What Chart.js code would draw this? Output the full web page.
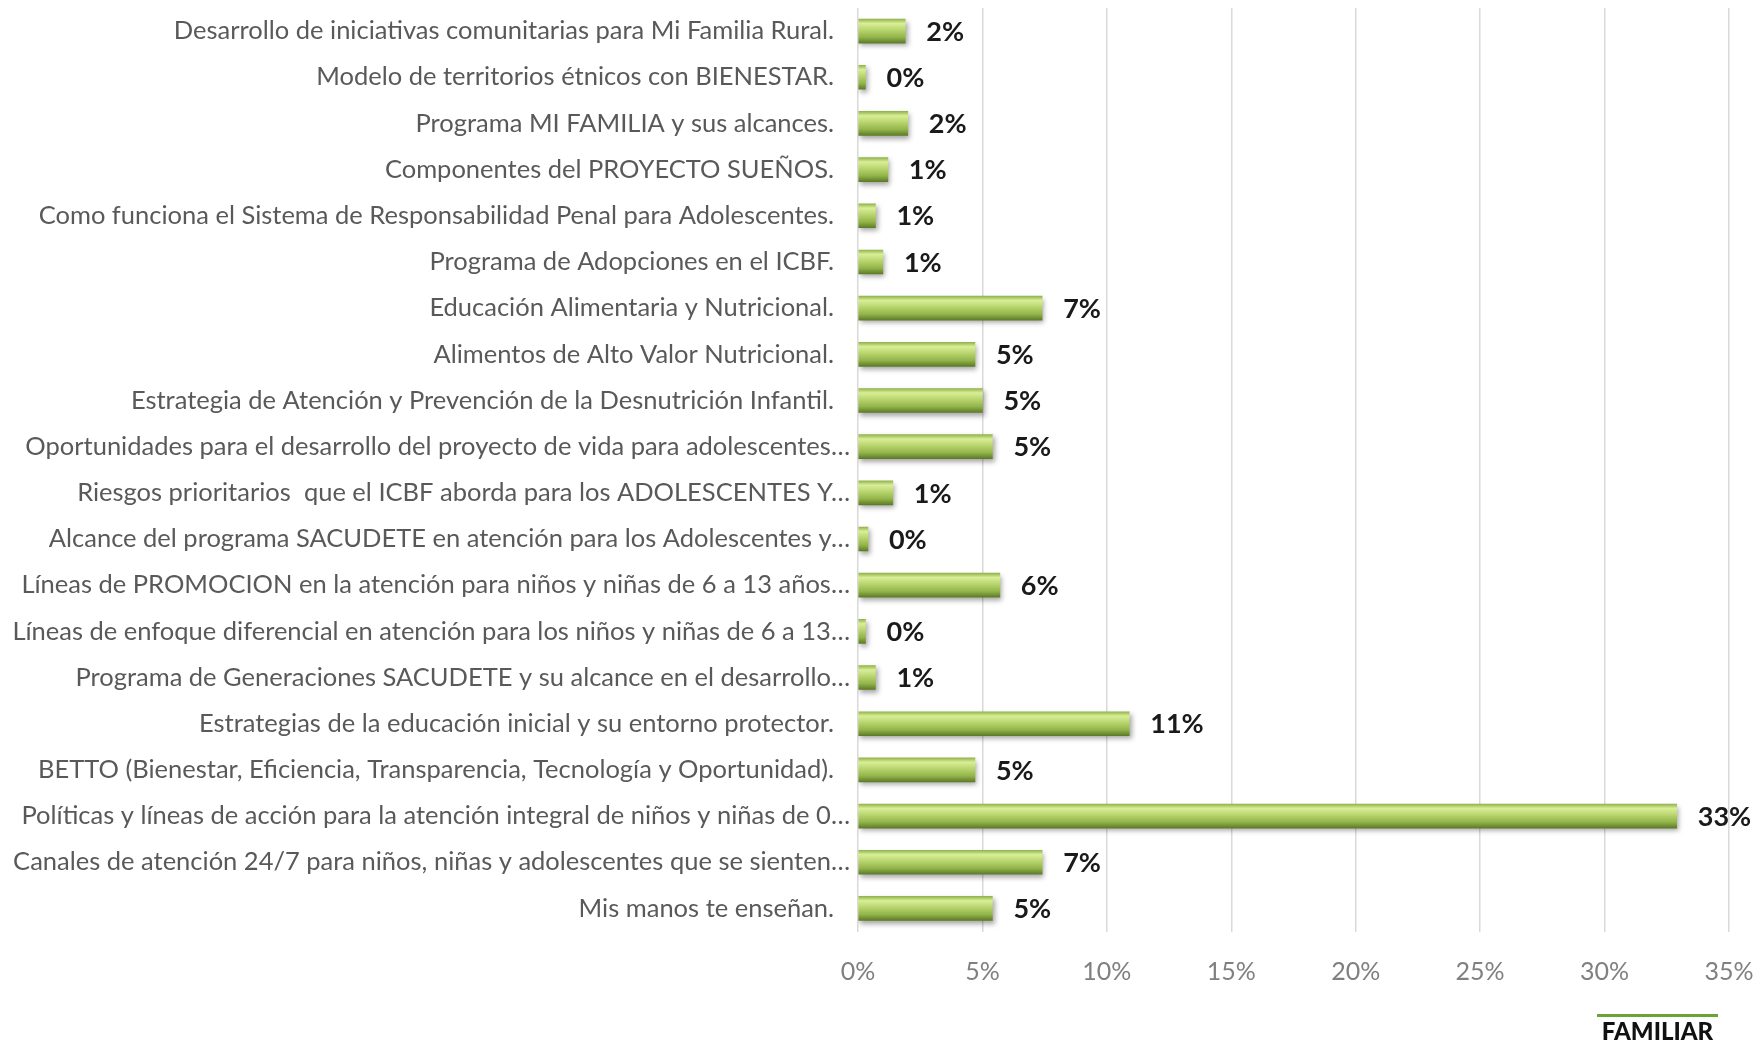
<!DOCTYPE html>
<html>
<head>
<meta charset="utf-8">
<script src="https://cdn.jsdelivr.net/npm/chart.js@4.4.1/dist/chart.umd.min.js"></script>
<style>
  html, body { margin: 0; padding: 0; background: #ffffff; }
  #wrap { position: relative; width: 1760px; height: 1041px; overflow: hidden; }
  #c { position: absolute; left: 0; top: 0; }
  #logo { position: absolute; left: 1597px; top: 1014px; width: 121px; border-top: 3px solid #6aa336;
          font-family: Lato, "Liberation Sans", sans-serif; font-weight: 900; font-size: 24px;
          color: #111; text-align: center; line-height: 27px; }
</style>
</head>
<body>
<div id="wrap">
  <canvas id="c" width="1760" height="1041"></canvas>
  <div id="logo">FAMILIAR</div>
</div>
<script>
const categories = [
  "Desarrollo de iniciativas comunitarias para Mi Familia Rural.",
  "Modelo de territorios étnicos con BIENESTAR.",
  "Programa MI FAMILIA y sus alcances.",
  "Componentes del PROYECTO SUEÑOS.",
  "Como funciona el Sistema de Responsabilidad Penal para Adolescentes.",
  "Programa de Adopciones en el ICBF.",
  "Educación Alimentaria y Nutricional.",
  "Alimentos de Alto Valor Nutricional.",
  "Estrategia de Atención y Prevención de la Desnutrición Infantil.",
  "Oportunidades para el desarrollo del proyecto de vida para adolescentes…",
  "Riesgos prioritarios  que el ICBF aborda para los ADOLESCENTES Y…",
  "Alcance del programa SACUDETE en atención para los Adolescentes y…",
  "Líneas de PROMOCION en la atención para niños y niñas de 6 a 13 años…",
  "Líneas de enfoque diferencial en atención para los niños y niñas de 6 a 13…",
  "Programa de Generaciones SACUDETE y su alcance en el desarrollo…",
  "Estrategias de la educación inicial y su entorno protector.",
  "BETTO (Bienestar, Eficiencia, Transparencia, Tecnología y Oportunidad).",
  "Políticas y líneas de acción para la atención integral de niños y niñas de 0…",
  "Canales de atención 24/7 para niños, niñas y adolescentes que se sienten…",
  "Mis manos te enseñan."
];
const percentValues = [1.9, 0.3, 2.0, 1.2, 0.7, 1.0, 7.4, 4.7, 5.0, 5.4, 1.4, 0.4, 5.7, 0.3, 0.7, 10.9, 4.7, 32.9, 7.4, 5.4];
const xTickValues = [0, 5, 10, 15, 20, 25, 30, 35];

const BAR_T = 24;

function barGradient(ctx) {
  const chart = ctx.chart;
  const yScale = chart.scales && chart.scales.y;
  if (!chart.chartArea || !yScale || ctx.dataIndex === undefined) return '#9bbb59';
  const yc = yScale.getPixelForValue(ctx.dataIndex);
  const g = chart.ctx.createLinearGradient(0, yc - BAR_T / 2, 0, yc + BAR_T / 2);
  g.addColorStop(0, '#93b44c');
  g.addColorStop(0.18, '#d9ee97');
  g.addColorStop(0.42, '#bcd872');
  g.addColorStop(0.75, '#93b54a');
  g.addColorStop(1, '#5d7b28');
  return g;
}

const shadowPlugin = {
  id: 'barShadow',
  beforeDatasetsDraw(chart) {
    const c = chart.ctx;
    c.save();
    c.shadowColor = 'rgba(0,0,0,0.35)';
    c.shadowBlur = 5;
    c.shadowOffsetX = 2;
    c.shadowOffsetY = 3;
  },
  afterDatasetsDraw(chart) {
    chart.ctx.restore();
  }
};

const valueLabelPlugin = {
  id: 'valueLabels',
  afterDraw(chart) {
    const c = chart.ctx;
    const meta = chart.getDatasetMeta(0);
    c.save();
    c.font = 'bold 27px Lato, "Liberation Sans", sans-serif';
    c.fillStyle = '#1a1a1a';
    c.textAlign = 'left';
    c.textBaseline = 'middle';
    meta.data.forEach((bar, i) => {
      const v = chart.data.datasets[0].data[i];
      c.fillText(Math.round(v) + '%', bar.x + 21, bar.y + 1);
    });
    c.restore();
  }
};

new Chart(document.getElementById('c'), {
  type: 'bar',
  data: {
    labels: categories,
    datasets: [{
      data: percentValues,
      backgroundColor: barGradient,
      borderWidth: 0,
      barThickness: BAR_T
    }]
  },
  options: {
    indexAxis: 'y',
    responsive: false,
    animation: false,
    devicePixelRatio: 1,
    layout: { padding: { top: 8, right: 31, bottom: 29.5, left: 0 } },
    plugins: { legend: { display: false }, tooltip: { enabled: false } },
    scales: {
      x: {
        min: 0, max: 35,
        afterBuildTicks(scale) { scale.ticks = xTickValues.map(v => ({ value: v })); },
        afterFit(scale) { scale.paddingLeft = 0; scale.paddingRight = 0; },
        grid: { color: '#d9d9d9', lineWidth: 1.5, drawTicks: false },
        border: { display: false },
        ticks: {
          padding: 25,
          color: '#808080',
          font: { family: 'Lato, "Liberation Sans", sans-serif', size: 25 },
          callback: v => v + '%'
        }
      },
      y: {
        afterFit(scale) { scale.width = 858; scale.paddingTop = 0; scale.paddingBottom = 0; },
        grid: { display: false, drawTicks: false },
        border: { display: false },
        ticks: {
          padding: 8,
          autoSkip: false,
          color: '#595959',
          font: { family: 'Lato, "Liberation Sans", sans-serif', size: 25.5 },
          callback(value) {
            const l = categories[value];
            return l.endsWith('…') ? l : l + '\u2002\u2009';
          }
        }
      }
    }
  },
  plugins: [shadowPlugin, valueLabelPlugin]
});
</script>
</body>
</html>
